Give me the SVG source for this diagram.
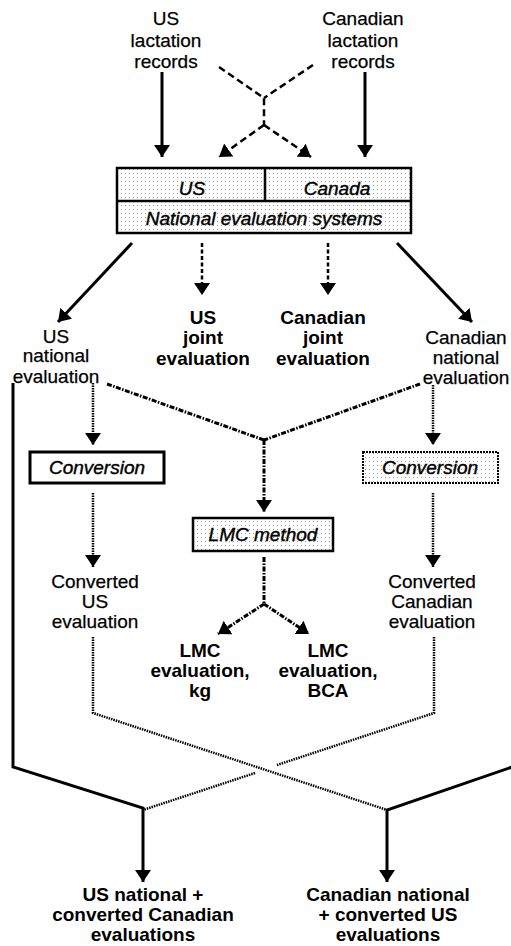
<svg xmlns="http://www.w3.org/2000/svg" width="511" height="946" viewBox="0 0 511 946">
<style>
text{font-family:"Liberation Sans",Arial,sans-serif;font-size:19px;text-anchor:middle;fill:#000;stroke:#000;stroke-width:0.25}
.b{font-weight:bold;stroke-width:0}
.i{font-style:italic;stroke:#000;stroke-width:0.4}
.solid{fill:none;stroke:#000;stroke-width:3}
.dash{fill:none;stroke:#000;stroke-width:2.5;stroke-dasharray:7 4}
.dash2{fill:none;stroke:#000;stroke-width:2.5;stroke-dasharray:4 2.5}
.dd{fill:none;stroke:#000;stroke-width:3;stroke-dasharray:5 1.5 1.5 1.5}
.dot{fill:none;stroke:#000;stroke-width:2.5;stroke-dasharray:1.5 1}
.box{fill:url(#stip);stroke:#000;stroke-width:2.5}
</style>
<defs>
<pattern id="stip" width="4" height="4" patternUnits="userSpaceOnUse">
<rect width="4" height="4" fill="#fff"/>
<rect x="1" y="1" width="1" height="1" fill="#9a9a9a"/>
</pattern>
<marker id="ah" viewBox="0 0 12 16" refX="12" refY="8" markerWidth="12" markerHeight="16" orient="auto" markerUnits="userSpaceOnUse">
<path d="M0,0 L12,8 L0,16 Z" fill="#000"/>
</marker>
</defs>

<g id="us-records"><text x="166" y="25">US</text><text x="166" y="47">lactation</text><text x="166" y="68">records</text></g>
<g id="ca-records"><text x="363" y="25">Canadian</text><text x="363" y="47">lactation</text><text x="363" y="68">records</text></g>

<g id="national-systems">
<rect x="117" y="168" width="294" height="65" class="box" stroke-width="3"/>
<line x1="117" y1="201" x2="411" y2="201" stroke="#000" stroke-width="2.5"/>
<line x1="265" y1="168" x2="265" y2="201" stroke="#000" stroke-width="2.5"/>
<text x="192" y="195" class="i">US</text>
<text x="337" y="195" class="i">Canada</text>
<text x="264" y="225" class="i">National evaluation systems</text>
</g>

<g id="us-national"><text x="56" y="343">US</text><text x="56" y="362">national</text><text x="56" y="383">evaluation</text></g>
<g id="us-joint"><text x="203" y="324" class="b">US</text><text x="203" y="344" class="b">joint</text><text x="203" y="365" class="b">evaluation</text></g>
<g id="ca-joint"><text x="323" y="324" class="b">Canadian</text><text x="323" y="344" class="b">joint</text><text x="323" y="365" class="b">evaluation</text></g>
<g id="ca-national"><text x="466" y="344">Canadian</text><text x="466" y="364">national</text><text x="466" y="384">evaluation</text></g>

<g id="us-conversion"><rect x="30" y="452" width="134" height="31" fill="#fff" stroke="#000" stroke-width="3"/><text x="97" y="474" class="i">Conversion</text></g>
<g id="ca-conversion"><rect x="363" y="452" width="135" height="31" fill="url(#stip)" stroke="#000" stroke-width="2" stroke-dasharray="2 1"/><text x="430" y="474" class="i">Conversion</text></g>
<g id="lmc-method"><rect x="193" y="518" width="140" height="33" class="box"/><text x="263" y="541" class="i">LMC method</text></g>

<g id="converted-us"><text x="95" y="588">Converted</text><text x="95" y="608">US</text><text x="95" y="628">evaluation</text></g>
<g id="converted-ca"><text x="432" y="588">Converted</text><text x="432" y="608">Canadian</text><text x="432" y="628">evaluation</text></g>

<g id="lmc-kg"><text x="200" y="657" class="b">LMC</text><text x="200" y="677" class="b">evaluation,</text><text x="200" y="697" class="b">kg</text></g>
<g id="lmc-bca"><text x="328" y="657" class="b">LMC</text><text x="328" y="677" class="b">evaluation,</text><text x="328" y="697" class="b">BCA</text></g>

<g id="us-final"><text x="143" y="901" class="b">US national +</text><text x="143" y="921" class="b">converted Canadian</text><text x="143" y="941" class="b">evaluations</text></g>
<g id="ca-final"><text x="388" y="901" class="b">Canadian national</text><text x="388" y="921" class="b">+ converted US</text><text x="388" y="941" class="b">evaluations</text></g>

<g id="connectors">
<line x1="162" y1="72" x2="162" y2="157" class="solid" marker-end="url(#ah)"/>
<line x1="365" y1="72" x2="365" y2="157" class="solid" marker-end="url(#ah)"/>
<polyline points="219,67 264,98 264,125" class="dash"/>
<line x1="313" y1="65" x2="264" y2="98" class="dash"/>
<line x1="264" y1="125" x2="219" y2="157" class="dash" marker-end="url(#ah)"/>
<line x1="264" y1="125" x2="311" y2="157" class="dash" marker-end="url(#ah)"/>

<line x1="132" y1="243" x2="58" y2="322" class="solid" marker-end="url(#ah)"/>
<line x1="397" y1="243" x2="472" y2="322" class="solid" marker-end="url(#ah)"/>
<line x1="202" y1="243" x2="202" y2="295" class="dash2" marker-end="url(#ah)"/>
<line x1="328" y1="243" x2="328" y2="295" class="dash2" marker-end="url(#ah)"/>

<line x1="93" y1="383" x2="93" y2="445" class="dot" marker-end="url(#ah)"/>
<line x1="433" y1="385" x2="433" y2="445" class="dot" marker-end="url(#ah)"/>
<polyline points="107,384 264,440" class="dd"/>
<polyline points="420,384 264,440" class="dd"/>
<line x1="264" y1="440" x2="264" y2="512" class="dd" marker-end="url(#ah)"/>

<line x1="93" y1="493" x2="93" y2="567" class="dot" marker-end="url(#ah)"/>
<line x1="433" y1="493" x2="433" y2="567" class="dot" marker-end="url(#ah)"/>

<line x1="264" y1="557" x2="264" y2="604" class="dd"/>
<line x1="264" y1="604" x2="218" y2="634" class="dd" marker-end="url(#ah)"/>
<line x1="264" y1="604" x2="309" y2="634" class="dd" marker-end="url(#ah)"/>

<polyline points="93,637 93,713 387,810" class="dot"/>
<polyline points="434,637 434,713 277,765" class="dot"/>
<line x1="255" y1="773" x2="143" y2="810" class="dot"/>

<polyline points="13,383 13,767 143,808 143,882" class="solid" marker-end="url(#ah)"/>
<polyline points="515,383 515,766 387,810 387,882" class="solid" marker-end="url(#ah)"/>
</g>
</svg>
